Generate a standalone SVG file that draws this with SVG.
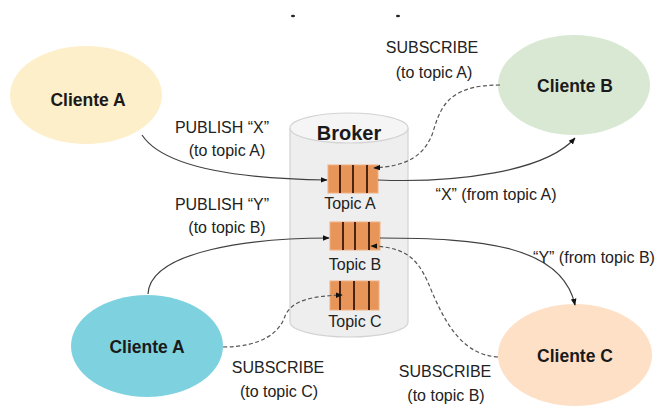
<svg xmlns="http://www.w3.org/2000/svg" width="668" height="406" viewBox="0 0 668 406">
  <style>
    .lbl { font-family: "Liberation Sans", Arial, sans-serif; font-size: 16px; fill: #222; text-anchor: middle; }
    .node-lbl { font-family: "Liberation Sans", Arial, sans-serif; font-size: 17.5px; font-weight: bold; fill: #1a1a1a; text-anchor: middle; }
    .solid { fill: none; stroke: #404040; stroke-width: 1.2; marker-end: url(#arrow); }
    .dashed { fill: none; stroke: #555; stroke-width: 1.2; stroke-dasharray: 4 2.5; marker-end: url(#arrow); }
    .queue { fill: #e8955a; stroke: #f0b080; stroke-width: 1; }
    .slot { stroke: #4a2410; stroke-width: 2; }
  </style>
  <defs>
    <marker id="arrow" viewBox="0 0 10 10" refX="9" refY="5" markerWidth="7" markerHeight="7" orient="auto" markerUnits="userSpaceOnUse">
      <path d="M0,1 L10,5 L0,9 Z" fill="#111"/>
    </marker>
  </defs>

  <rect width="668" height="406" fill="#fff"/>

  <!-- small marks along the top edge -->
  <ellipse cx="293" cy="16" rx="2" ry="1.2" fill="#222"/>
  <ellipse cx="398" cy="16" rx="2" ry="1.2" fill="#222"/>

  <!-- Clients -->
  <g id="cliente-a-pub">
    <ellipse cx="86" cy="95" rx="76" ry="49" fill="#fdefc9"/>
    <text class="node-lbl" x="88" y="106">Cliente A</text>
  </g>
  <g id="cliente-b">
    <ellipse cx="574" cy="85" rx="76" ry="50" fill="#d9e8d3"/>
    <text class="node-lbl" x="575" y="92">Cliente B</text>
  </g>
  <g id="cliente-a-sub">
    <ellipse cx="147" cy="346" rx="76" ry="51" fill="#7ed2df"/>
    <text class="node-lbl" x="147" y="353">Cliente A</text>
  </g>
  <g id="cliente-c">
    <ellipse cx="575" cy="355" rx="77" ry="51" fill="#fde0c6"/>
    <text class="node-lbl" x="575" y="362">Cliente C</text>
  </g>

  <!-- Broker cylinder with topic queues -->
  <g id="broker">
    <path d="M290,128 L290,322 A59,15 0 0 0 408,322 L408,128" fill="#eeeeee" stroke="#d3d3d3" stroke-width="1.2"/>
    <ellipse cx="349" cy="128" rx="59" ry="15" fill="#f5f5f5" stroke="#d3d3d3" stroke-width="1.2"/>
    <text x="349" y="140" font-family="Liberation Sans, Arial, sans-serif" font-size="20" font-weight="bold" fill="#1a1a1a" text-anchor="middle">Broker</text>
  </g>
  <g id="topic-a">
    <rect class="queue" x="328" y="165" width="50" height="28"/>
    <line class="slot" x1="340" y1="165" x2="340" y2="193"/>
    <line class="slot" x1="353" y1="165" x2="353" y2="193"/>
    <line class="slot" x1="367" y1="165" x2="367" y2="193"/>
    <text class="lbl" x="350" y="209">Topic A</text>
  </g>
  <g id="topic-b">
    <rect class="queue" x="330" y="222" width="50" height="28"/>
    <line class="slot" x1="343" y1="222" x2="343" y2="250"/>
    <line class="slot" x1="355" y1="222" x2="355" y2="250"/>
    <line class="slot" x1="369" y1="222" x2="369" y2="250"/>
    <text class="lbl" x="355" y="270">Topic B</text>
  </g>
  <g id="topic-c">
    <rect class="queue" x="330" y="281" width="49" height="29"/>
    <line class="slot" x1="340" y1="281" x2="340" y2="310"/>
    <line class="slot" x1="354" y1="281" x2="354" y2="310"/>
    <line class="slot" x1="369" y1="281" x2="369" y2="310"/>
    <text class="lbl" x="355" y="327">Topic C</text>
  </g>

  <!-- Connectors -->
  <g id="connectors">
    <path class="solid" d="M142,135 C165,170 250,179 327,180"/>
    <path class="solid" d="M378,180 C455,183 545,172 575,138"/>
    <path class="dashed" d="M500,85 C445,85 440,110 432,135 C422,158 405,166 374,168"/>
    <path class="solid" d="M148,294 C150,250 255,238 329,238"/>
    <path class="solid" d="M380,238 C480,238 562,245 575,305"/>
    <path class="dashed" d="M498,357 C462,355 445,322 432,292 C420,262 410,247 371,246"/>
    <path class="dashed" d="M223,347 C262,347 280,332 285,316 C292,300 312,296 342,295"/>
  </g>

  <!-- Connector labels -->
  <g id="labels">
    <text class="lbl" x="432" y="53">SUBSCRIBE</text>
    <text class="lbl" x="434" y="78">(to topic A)</text>
    <text class="lbl" x="222" y="133">PUBLISH “X”</text>
    <text class="lbl" x="227" y="156">(to topic A)</text>
    <text class="lbl" x="222" y="210">PUBLISH “Y”</text>
    <text class="lbl" x="227" y="233">(to topic B)</text>
    <text class="lbl" x="496" y="200">“X” (from topic A)</text>
    <text class="lbl" x="594" y="263">“Y” (from topic B)</text>
    <text class="lbl" x="278" y="373">SUBSCRIBE</text>
    <text class="lbl" x="279" y="397">(to topic C)</text>
    <text class="lbl" x="445" y="377">SUBSCRIBE</text>
    <text class="lbl" x="446" y="401">(to topic B)</text>
  </g>
</svg>
